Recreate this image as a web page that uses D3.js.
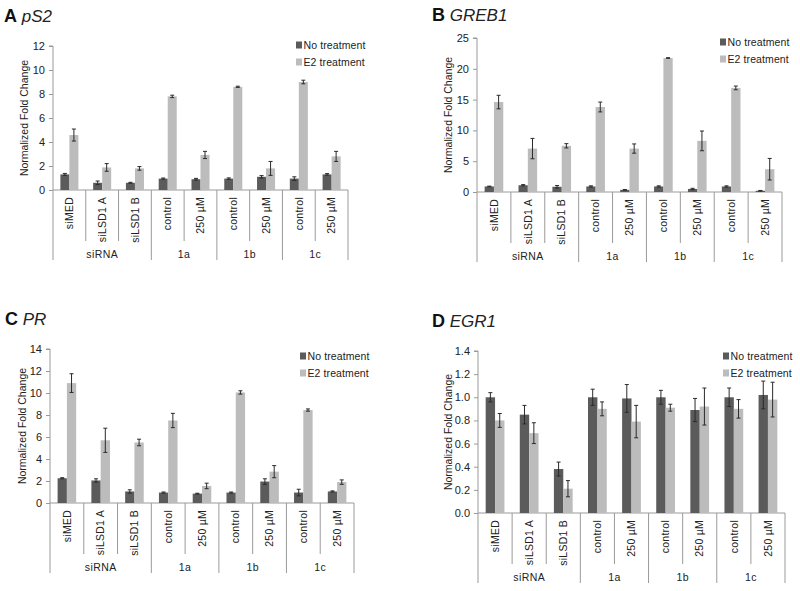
<!DOCTYPE html>
<html><head><meta charset="utf-8">
<script src="https://cdn.jsdelivr.net/npm/d3@7"></script>
<style>
body{margin:0;background:#fff;}
text{font-family:"Liberation Sans",Arial,sans-serif;fill:#222;}
</style></head>
<body><svg id="chart" width="800" height="591"></svg>
<script>
const categories = ["siMED","siLSD1 A","siLSD1 B","control","250 µM","control","250 µM","control","250 µM"];
const groups = [{name:"siRNA",start:0,end:3},{name:"1a",start:3,end:5},{name:"1b",start:5,end:7},{name:"1c",start:7,end:9}];
const seriesNames = ["No treatment","E2 treatment"];

const pS2_none = [1.3,0.6,0.6,0.95,0.9,0.95,1.1,0.95,1.3];
const pS2_none_err = [0.08,0.15,0.04,0.05,0.07,0.06,0.1,0.15,0.07];
const pS2_e2 = [4.58,1.88,1.8,7.8,2.92,8.6,1.8,9.0,2.8];
const pS2_e2_err = [0.5,0.32,0.15,0.1,0.3,0.05,0.58,0.15,0.42];

const greb1_none = [0.9,1.1,0.85,0.9,0.35,0.9,0.5,0.9,0.2];
const greb1_none_err = [0.05,0.1,0.2,0.1,0.05,0.1,0.1,0.1,0.05];
const greb1_e2 = [14.6,7.05,7.5,13.8,7.05,21.75,8.3,16.9,3.7];
const greb1_e2_err = [1.1,1.65,0.35,0.8,0.75,0.05,1.6,0.3,1.75];

const pr_none = [2.25,2.05,1.05,0.95,0.85,0.95,1.95,0.95,1.05];
const pr_none_err = [0.05,0.15,0.15,0.05,0.04,0.05,0.25,0.3,0.05];
const pr_e2 = [10.9,5.7,5.5,7.5,1.55,10.05,2.85,8.45,1.9];
const pr_e2_err = [0.85,1.1,0.3,0.65,0.25,0.15,0.55,0.1,0.2];

const egr1_none = [1.0,0.85,0.38,1.0,0.99,1.0,0.89,1.0,1.02];
const egr1_none_err = [0.04,0.08,0.06,0.07,0.12,0.06,0.1,0.08,0.12];
const egr1_e2 = [0.8,0.69,0.21,0.9,0.79,0.91,0.92,0.9,0.98];
const egr1_e2_err = [0.06,0.09,0.07,0.06,0.14,0.03,0.16,0.08,0.15];

const panels = [
  {letter:"A", gene:"pS2", none:pS2_none, noneErr:pS2_none_err, e2:pS2_e2, e2Err:pS2_e2_err,
   max:12, step:2, fmt:"d", x0:53, x1:348, yTop:46, yBot:190, titleX:4, titleY:22, ylabX:24, legX:296, legY:45},
  {letter:"B", gene:"GREB1", none:greb1_none, noneErr:greb1_none_err, e2:greb1_e2, e2Err:greb1_e2_err,
   max:25, step:5, fmt:"d", x0:477, x1:782, yTop:38, yBot:192, titleX:432, titleY:21, ylabX:448, legX:720, legY:42},
  {letter:"C", gene:"PR", none:pr_none, noneErr:pr_none_err, e2:pr_e2, e2Err:pr_e2_err,
   max:14, step:2, fmt:"d", x0:50, x1:354, yTop:349, yBot:503, titleX:5, titleY:325, ylabX:22, legX:300, legY:356},
  {letter:"D", gene:"EGR1", none:egr1_none, noneErr:egr1_none_err, e2:egr1_e2, e2Err:egr1_e2_err,
   max:1.4, step:0.2, fmt:".1f", x0:478, x1:785, yTop:351, yBot:513, titleX:432, titleY:327, ylabX:448, legX:723, legY:356}
];

const DARK = "#5b5b5b", LIGHT = "#bcbcbc", AXIS = "#9a9a9a", ERR = "#2a2a2a";
const svg = d3.select("#chart");

panels.forEach(p => {
  const g = svg.append("g");
  const x = d3.scaleBand().domain(d3.range(categories.length)).range([p.x0, p.x1]);
  const y = d3.scaleLinear().domain([0, p.max]).range([p.yBot, p.yTop]);
  const bw = x.bandwidth() * 0.275;

  // title
  const t = g.append("text").attr("x", p.titleX).attr("y", p.titleY).style("font-size","18px");
  t.append("tspan").text(p.letter).style("font-weight","bold").attr("fill","#111");
  t.append("tspan").text(" " + p.gene).style("font-style","italic").style("font-size","17px");

  // y axis
  const ticks = d3.range(0, p.max + p.step/2, p.step);
  const yAxis = d3.axisLeft(y).tickValues(ticks).tickSize(4).tickPadding(4).tickFormat(d3.format(p.fmt));
  const ya = g.append("g").attr("transform", `translate(${p.x0},0)`).call(yAxis);
  ya.selectAll("path, line").attr("stroke", AXIS);
  ya.select(".domain").attr("d", `M-4,${p.yTop}H0V${p.yBot}`);
  ya.selectAll("text").style("font-size","11px").style("font-family","Liberation Sans, Arial").attr("fill","#333");

  // y label
  g.append("text").attr("transform", `translate(${p.ylabX},${(p.yTop+p.yBot)/2}) rotate(-90)`)
    .attr("text-anchor","middle").attr("dy","0.35em").style("font-size","10.5px")
    .text("Normalized Fold Change");

  // x baseline
  g.append("line").attr("x1", p.x0).attr("x2", p.x1).attr("y1", p.yBot).attr("y2", p.yBot).attr("stroke", AXIS);

  // separators
  const groupBounds = new Set();
  groups.forEach(gr => { groupBounds.add(gr.start); groupBounds.add(gr.end); });
  d3.range(categories.length + 1).forEach(i => {
    const xx = i < categories.length ? x(i) : p.x1;
    const len = groupBounds.has(i) ? 70 : 51;
    g.append("line").attr("x1", xx).attr("x2", xx).attr("y1", p.yBot).attr("y2", p.yBot + len).attr("stroke", AXIS);
  });

  // category labels
  categories.forEach((c, i) => {
    g.append("text").attr("transform", `translate(${x(i) + x.bandwidth()/2},${p.yBot + 7}) rotate(-90)`)
      .attr("text-anchor","end").attr("dy","0.35em").style("font-size","10.5px").style("letter-spacing","0.25px")
      .text(c);
  });
  groups.forEach(gr => {
    const cx = (x(gr.start) + (gr.end < categories.length ? x(gr.end) : p.x1)) / 2;
    g.append("text").attr("x", cx).attr("y", p.yBot + 64).attr("dy","0.35em").attr("text-anchor","middle")
      .style("font-size","10.5px").style("letter-spacing","0.4px").text(gr.name);
  });

  // bars
  const series = [
    {vals:p.none, errs:p.noneErr, color:DARK, off:-bw},
    {vals:p.e2, errs:p.e2Err, color:LIGHT, off:0}
  ];
  series.forEach(s => {
    g.selectAll(null).data(s.vals).enter().append("rect")
      .attr("x", (d,i) => x(i) + x.bandwidth()/2 + s.off)
      .attr("width", bw)
      .attr("y", d => y(d))
      .attr("height", d => p.yBot - y(d))
      .attr("fill", s.color);
    s.vals.forEach((v, i) => {
      const cx = x(i) + x.bandwidth()/2 + s.off + bw/2;
      const e = s.errs[i];
      const y1 = y(v + e), y2 = y(Math.max(0, v - e));
      g.append("line").attr("x1", cx).attr("x2", cx).attr("y1", y1).attr("y2", y2).attr("stroke", ERR).attr("stroke-width", 1);
      [y1, y2].forEach(yy => g.append("line").attr("x1", cx-2).attr("x2", cx+2).attr("y1", yy).attr("y2", yy).attr("stroke", ERR).attr("stroke-width", 1));
    });
  });

  // legend
  seriesNames.forEach((n, i) => {
    const ly = p.legY + i * 17;
    g.append("rect").attr("x", p.legX).attr("y", ly - 3.5).attr("width", 6).attr("height", 7).attr("fill", i === 0 ? DARK : LIGHT);
    g.append("text").attr("x", p.legX + 7.5).attr("y", ly).attr("dy","0.35em").style("font-size","10.5px")
      .style("letter-spacing","0.1px").text(n);
  });
});
</script></body></html>
